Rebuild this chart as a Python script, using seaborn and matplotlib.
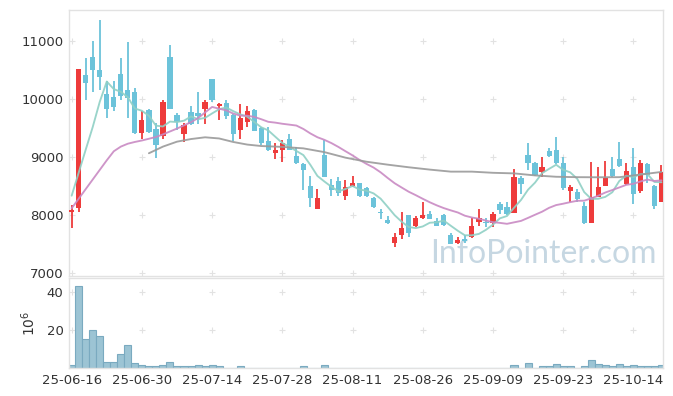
import numpy as np
import pandas as pd
import matplotlib
matplotlib.use("Agg")
import matplotlib.pyplot as plt
import seaborn as sns

# ---------------- data ----------------
holidays = ["2025-08-15", "2025-10-03", "2025-10-06", "2025-10-07", "2025-10-08", "2025-10-09"]
dates = [d for d in pd.bdate_range("2025-06-16", "2025-10-20") if d.strftime("%Y-%m-%d") not in holidays]

open_ = [8050, 8130, 10410, 10720, 10490, 10080, 10030, 10430, 10150, 10120,
         9420, 9810, 9480, 9370, 10720, 9720, 9390, 9780, 9750, 9830,
         10340, 9870, 9930, 9720, 9470, 9610, 9810, 9500, 9280, 9070,
         9130, 9310, 9020, 8880, 8500, 8110, 9040, 8520, 8590, 8340,
         8500, 8560, 8470, 8290, 8060, 7920, 7530, 7660, 8000, 7820,
         7960, 8020, 7910, 8000, 7660, 7520, 7590, 7630, 7890, 7890,
         7860, 8190, 8140, 8040, 8640, 9040, 8900, 8740, 9100, 9120,
         8890, 8410, 8400, 8160, 7870, 8310, 8510, 8800, 8970, 8530,
         8830, 8410, 8880, 8500, 8220]
high = [8170, 10520, 10700, 10990, 11360, 10310, 10310, 10700, 10970, 10180,
        9790, 9830, 9580, 9980, 10920, 9760, 9580, 9870, 10110, 9980,
        10350, 9930, 9980, 9740, 9910, 9870, 9820, 9520, 9520, 9240,
        9300, 9400, 9180, 8890, 8680, 8450, 9290, 8630, 8650, 8600,
        8680, 8560, 8480, 8320, 8110, 7990, 7690, 8050, 8010, 7990,
        8230, 8070, 7950, 8020, 7690, 7630, 7660, 7950, 8100, 7960,
        8060, 8230, 8230, 8790, 8680, 9240, 8910, 9000, 9150, 9340,
        9000, 8520, 8460, 8230, 8910, 8830, 8940, 9000, 9260, 8890,
        9150, 8950, 8890, 8520, 8870]
low = [7790, 8060, 9980, 10120, 10150, 9680, 9800, 9980, 9680, 9400,
       9310, 9410, 8980, 9310, 9820, 9460, 9260, 9550, 9570, 9570,
       9950, 9630, 9650, 9270, 9310, 9520, 9440, 9200, 9110, 8970,
       8920, 9120, 8880, 8440, 8150, 8110, 8650, 8340, 8330, 8270,
       8490, 8310, 8310, 8130, 7940, 7850, 7450, 7600, 7620, 7800,
       7940, 7930, 7820, 7820, 7500, 7500, 7530, 7610, 7820, 7800,
       7800, 8020, 8000, 8040, 8370, 8780, 8670, 8650, 9010, 8880,
       8430, 8220, 8230, 7850, 7870, 8310, 8510, 8650, 8830, 8520,
       8200, 8390, 8550, 8100, 8220]
close = [8090, 10510, 10280, 10490, 10380, 9830, 9860, 10050, 10020, 9410,
         9640, 9430, 9200, 9950, 9830, 9600, 9550, 9560, 9710, 9950,
         9980, 9910, 9710, 9400, 9670, 9790, 9450, 9250, 9130, 9130,
         9250, 9130, 8890, 8770, 8290, 8300, 8650, 8440, 8380, 8490,
         8560, 8340, 8340, 8150, 8040, 7860, 7620, 7780, 7690, 7950,
         8000, 7940, 7820, 7830, 7510, 7570, 7550, 7820, 7950, 7860,
         8020, 8090, 8020, 8650, 8540, 8900, 8700, 8830, 9020, 8890,
         8470, 8480, 8280, 7870, 8310, 8480, 8640, 8680, 8840, 8760,
         8360, 8890, 8690, 8160, 8740]
volume_m = [1.6, 43.3, 15.3, 20.0, 16.8, 3.3, 3.3, 7.4, 12.1, 2.6,
            1.6, 1.0, 1.0, 1.5, 3.2, 0.9, 0.9, 0.9, 1.5, 0.9,
            1.5, 0.9, 0.15, 0.15, 0.8, 0.15, 0.15, 0.1, 0.1, 0.1,
            0.1, 0.1, 0.15, 0.8, 0.15, 0.1, 1.5, 0.1, 0.1, 0.1,
            0.1, 0.1, 0.1, 0.1, 0.1, 0.1, 0.1, 0.1, 0.1, 0.1,
            0.1, 0.1, 0.1, 0.1, 0.1, 0.1, 0.1, 0.1, 0.1, 0.1,
            0.1, 0.1, 0.1, 1.5, 0.15, 2.6, 0.15, 0.8, 0.8, 2.0,
            0.8, 0.8, 0.15, 0.8, 4.4, 2.0, 1.5, 0.8, 2.0, 0.8,
            1.5, 0.8, 0.8, 0.8, 1.5]
# moving-average values before enough in-range history exists
ma5_head = [8337, 8732, 9127, 9517]
ma20_head = [8120, 8285, 8450, 8615, 8780, 8945, 9100, 9180, 9230, 9260,
             9285, 9315, 9345, 9390, 9440, 9490, 9545, 9600, 9670]
# long moving average
ma_long_idx = [11, 13, 15, 17, 19, 21, 23, 25, 27, 30, 33, 36, 39, 42, 45, 48,
               51, 54, 57, 60, 63, 66, 69, 72, 75, 78, 81, 84]
ma_long = [9066, 9180, 9265, 9310, 9340, 9320, 9260, 9215, 9190, 9175, 9150, 9085,
           8990, 8920, 8870, 8825, 8785, 8750, 8750, 8730, 8720, 8685, 8662, 8655,
           8653, 8655, 8700, 8745]

# ---------------- derived ----------------
n = len(close)
idx = np.arange(n)
cl = pd.Series(close, dtype=float)
ma5 = cl.rolling(5).mean().to_numpy()
ma5[:4] = ma5_head
ma20 = cl.rolling(20).mean().to_numpy()
ma20[:19] = ma20_head
df_ma = pd.DataFrame({"i": idx, "ma5": ma5, "ma20": ma20})
df_long = pd.DataFrame({"i": ma_long_idx, "v": ma_long})

RED = "#ee3b3b"
BLUE = "#6cc3da"

sns.set_style("white")
plt.rcParams["font.family"] = ["DejaVu Sans"]

fig = plt.figure(figsize=(6.73, 3.96), dpi=100)
W, H = 673, 396
ax = fig.add_axes([69 / W, 1 - 276 / H, 594 / W, 266 / H])
axv = fig.add_axes([69 / W, 1 - 368 / H, 594 / W, 90 / H], sharex=ax)

xticks = list(range(0, n, 10))
main_ticks = [7000, 8000, 9000, 10000, 11000]
vol_ticks = [20, 40]

# grid crosses
for t in xticks:
    ax.scatter([t] * len(main_ticks), main_ticks, marker="+", s=20, color="#e2e2e2", lw=0.8, zorder=0)
    axv.scatter([t] * len(vol_ticks), vol_ticks, marker="+", s=20, color="#e2e2e2", lw=0.8, zorder=0)

# candles
o = np.array(open_, float); c = np.array(close, float)
h = np.array(high, float); l = np.array(low, float)
colors = [RED if cc >= oo else BLUE for oo, cc in zip(o, c)]
ax.vlines(idx, l, h, colors=colors, lw=1.3, zorder=2)
body_lo = np.minimum(o, c)
body_h = np.maximum(np.abs(c - o), 12)
ax.bar(idx, body_h, bottom=body_lo, width=0.74, color=colors, edgecolor="none", zorder=3)

# moving averages
sns.lineplot(data=df_ma, x="i", y="ma5", ax=ax, color="#8fd0c5", lw=1.35, alpha=0.9, zorder=4)
sns.lineplot(data=df_ma, x="i", y="ma20", ax=ax, color="#c98ac3", lw=1.35, alpha=0.9, zorder=4)
sns.lineplot(data=df_long, x="i", y="v", ax=ax, color="#9a9a9a", lw=1.35, alpha=0.9, zorder=4)

ax.text(0.99, 0.025, "InfoPointer.com", transform=ax.transAxes, ha="right", va="bottom",
        fontsize=23, color="#c6d7e2", family="Lato", zorder=1)

# volume
axv.bar(idx, volume_m, width=1.0, color="#9cc4d4", edgecolor="#7aaac0", lw=0.8, zorder=2)

ax.set_xlim(-0.38, 84.22)
ax.set_ylim(6957, 11527)
axv.set_ylim(0, 47.5)

ax.set_yticks(main_ticks)
ax.set_yticklabels([str(v) for v in main_ticks])
axv.set_yticks(vol_ticks)
axv.set_xticks(xticks)
axv.set_xticklabels([dates[i].strftime("%y-%m-%d") for i in xticks])
plt.setp(ax.get_xticklabels(), visible=False)

for a in (ax, axv):
    a.set_xlabel("")
    a.set_ylabel("")
    a.tick_params(length=0, labelsize=9.5, colors="#333333", pad=4)
    for s in a.spines.values():
        s.set_color("#e2e2e2")
        s.set_linewidth(1.0)

axv.set_ylabel(r"$10^6$", fontsize=10, color="#333333", labelpad=6)

fig.savefig("out.png", dpi=100)
